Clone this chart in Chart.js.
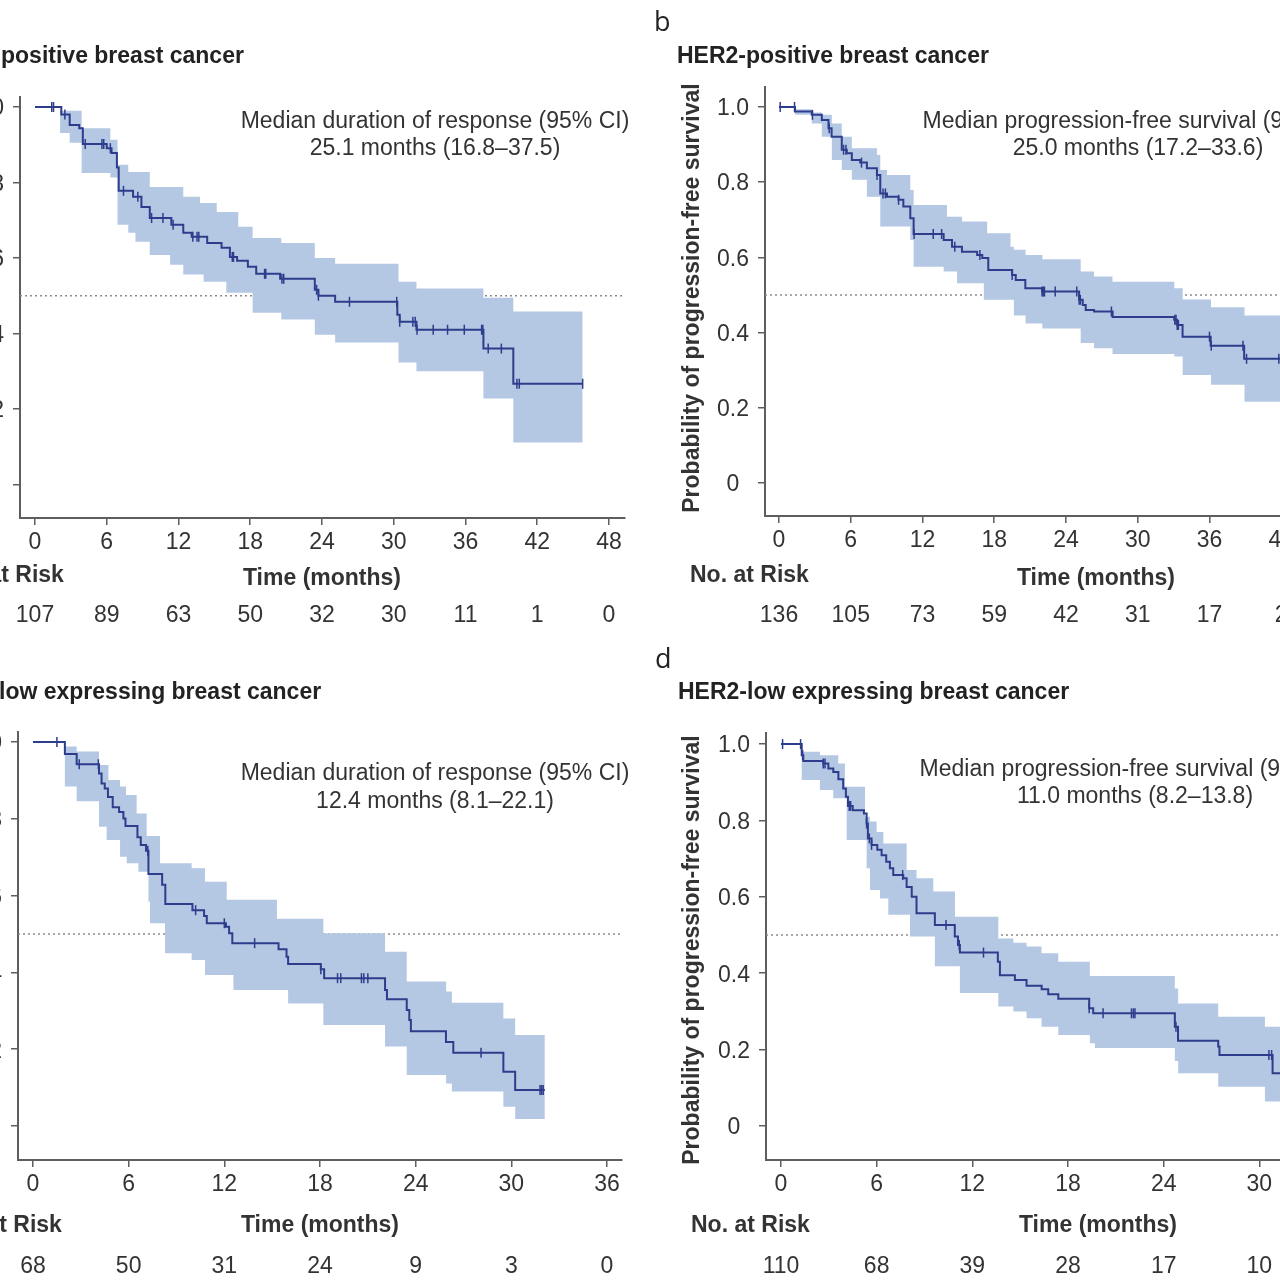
<!DOCTYPE html>
<html>
<head>
<meta charset="utf-8">
<script src="https://cdn.jsdelivr.net/npm/chart.js@4.4.1/dist/chart.umd.min.js"></script>
<style>
  html, body { margin: 0; padding: 0; background: #fff; }
  body { width: 1280px; height: 1280px; overflow: hidden; position: relative; }
  .panel { position: absolute; }
</style>
</head>
<body>
<script>
// ---- shared ticks ----
const yTicks = [0, 0.2, 0.4, 0.6, 0.8, 1.0];
const yTickLabels = ['0', '0.2', '0.4', '0.6', '0.8', '1.0'];

// ---- a: HER2-positive, duration of response ----
const aTime = [0, 2.2, 2.9, 3.7, 4.0, 6.0, 6.4, 6.85, 7.0, 8.2, 8.9, 9.6, 11.4, 12.4, 13.1, 14.4, 15.6, 16.3, 16.9, 17.8, 18.5, 20.5, 23.4, 23.7, 25.1, 30.3, 30.5, 31.9, 37.5, 40.0, 45.8];
const aSurv = [1.0, 0.98, 0.952, 0.944, 0.902, 0.891, 0.878, 0.84, 0.778, 0.762, 0.735, 0.706, 0.688, 0.667, 0.656, 0.640, 0.627, 0.603, 0.593, 0.577, 0.558, 0.545, 0.516, 0.50, 0.484, 0.45, 0.431, 0.41, 0.36, 0.267, 0.267];
const aCensor = [1.4, 1.55, 2.5, 4.2, 5.6, 5.75, 6.3, 7.4, 8.6, 9.75, 10.7, 11.55, 13.2, 13.55, 13.7, 16.5, 16.6, 19.2, 19.3, 20.65, 20.8, 23.55, 23.7, 26.3, 30.25, 30.5, 31.6, 31.8, 31.95, 33.3, 34.5, 35.9, 37.35, 37.45, 37.9, 39.0, 40.3, 40.5, 45.8];
const aBandTime = [0, 2.1, 2.9, 3.9, 6.3, 6.9, 7.8, 8.4, 9.6, 11.3, 12.4, 13.8, 14.1, 15.2, 16.0, 17.0, 18.2, 20.6, 23.4, 25.1, 30.4, 31.9, 37.5, 40.0, 45.8];
const aBandHigh = [1.0, 0.99, 0.99, 0.944, 0.913, 0.847, 0.828, 0.828, 0.788, 0.788, 0.762, 0.746, 0.746, 0.722, 0.722, 0.683, 0.653, 0.640, 0.600, 0.585, 0.537, 0.519, 0.495, 0.458, 0.458];
const aBandLow = [1.0, 0.931, 0.905, 0.825, 0.813, 0.688, 0.667, 0.643, 0.608, 0.582, 0.556, 0.556, 0.537, 0.537, 0.508, 0.508, 0.455, 0.437, 0.397, 0.376, 0.323, 0.300, 0.228, 0.111, 0.111];
const aXTicks = [0, 6, 12, 18, 24, 30, 36, 42, 48];
const aAtRisk = [107, 89, 63, 50, 32, 30, 11, 1, 0];

// ---- b: HER2-positive, progression-free survival ----
const bTime = [0, 1.34, 2.74, 3.58, 4.14, 4.4, 5.25, 5.67, 6.09, 6.79, 7.35, 8.19, 8.47, 9.03, 10.0, 10.4, 10.98, 11.26, 13.77, 14.47, 15.3, 16.57, 17.0, 17.5, 19.5, 19.8, 20.6, 22.0, 25.1, 25.4, 25.65, 26.35, 27.9, 33.05, 33.3, 33.75, 36.1, 38.9, 42.5];
const bSurv = [1.0, 0.988, 0.979, 0.965, 0.943, 0.921, 0.886, 0.877, 0.859, 0.852, 0.837, 0.819, 0.770, 0.761, 0.753, 0.735, 0.704, 0.662, 0.646, 0.628, 0.615, 0.606, 0.598, 0.566, 0.553, 0.540, 0.518, 0.509, 0.487, 0.473, 0.460, 0.456, 0.441, 0.434, 0.420, 0.389, 0.365, 0.330, 0.330];
const bCensor = [0.1, 1.3, 2.8, 4.2, 5.4, 5.6, 6.9, 8.2, 8.7, 8.9, 10.0, 11.3, 12.9, 13.6, 14.7, 16.8, 19.5, 22.0, 22.1, 22.2, 23.1, 24.9, 25.1, 25.2, 27.8, 33.1, 33.2, 33.3, 33.4, 36.0, 36.15, 38.8, 39.1, 41.8];
const bBandTime = [0, 1.34, 2.74, 3.58, 4.42, 5.25, 6.09, 7.35, 8.19, 8.47, 9.03, 10.98, 11.26, 13.77, 14.05, 14.89, 15.31, 17.13, 17.41, 19.36, 19.64, 20.62, 22.02, 25.23, 26.35, 27.89, 33.06, 33.76, 36.13, 38.93, 42.5];
const bBandHigh = [1.0, 0.994, 0.985, 0.979, 0.956, 0.921, 0.890, 0.890, 0.872, 0.832, 0.819, 0.779, 0.739, 0.739, 0.708, 0.708, 0.695, 0.695, 0.664, 0.628, 0.620, 0.606, 0.595, 0.562, 0.549, 0.535, 0.518, 0.488, 0.467, 0.445, 0.445];
const bBandLow = [1.0, 0.979, 0.956, 0.921, 0.859, 0.832, 0.806, 0.761, 0.761, 0.682, 0.682, 0.646, 0.575, 0.562, 0.562, 0.531, 0.531, 0.487, 0.487, 0.487, 0.445, 0.424, 0.411, 0.372, 0.358, 0.343, 0.336, 0.287, 0.261, 0.216, 0.216];
const bXTicks = [0, 6, 12, 18, 24, 30, 36, 42, 48];
const bAtRisk = [136, 105, 73, 59, 42, 31, 17, 2];

// ---- c: HER2-low, duration of response ----
const cTime = [0, 2.0, 2.74, 4.14, 4.3, 4.5, 4.7, 5.0, 5.4, 5.67, 5.8, 6.55, 6.76, 7.09, 7.24, 8.1, 8.3, 10.0, 10.73, 10.9, 12.1, 12.3, 12.5, 15.4, 15.9, 16.0, 18.05, 18.26, 22.08, 22.2, 23.44, 23.6, 23.7, 25.9, 26.36, 29.5, 30.24, 32.1];
const cSurv = [1.0, 0.969, 0.942, 0.918, 0.892, 0.879, 0.857, 0.830, 0.818, 0.801, 0.781, 0.752, 0.732, 0.717, 0.656, 0.628, 0.578, 0.562, 0.547, 0.528, 0.519, 0.502, 0.476, 0.460, 0.441, 0.422, 0.408, 0.385, 0.354, 0.330, 0.302, 0.276, 0.247, 0.219, 0.191, 0.141, 0.094, 0.094];
const cCensor = [1.5, 2.9, 4.1, 7.2, 10.2, 12.0, 13.9, 18.05, 19.1, 19.3, 20.6, 20.75, 21.0, 28.1, 31.8, 31.9, 32.0];
const cBandTime = [0, 2.0, 2.74, 4.14, 4.62, 4.73, 5.46, 5.83, 5.88, 6.5, 6.61, 7.13, 7.24, 7.34, 7.97, 8.28, 9.95, 10.79, 12.15, 12.57, 15.3, 16.0, 18.21, 22.08, 23.44, 25.91, 26.27, 29.5, 30.24, 32.1];
const cBandHigh = [1.0, 0.988, 0.975, 0.940, 0.940, 0.901, 0.884, 0.862, 0.862, 0.814, 0.814, 0.755, 0.755, 0.755, 0.684, 0.684, 0.671, 0.636, 0.589, 0.589, 0.540, 0.540, 0.502, 0.454, 0.376, 0.350, 0.321, 0.280, 0.237, 0.237];
const cBandLow = [1.0, 0.884, 0.846, 0.779, 0.745, 0.745, 0.701, 0.701, 0.684, 0.684, 0.662, 0.662, 0.584, 0.528, 0.528, 0.450, 0.432, 0.393, 0.393, 0.354, 0.354, 0.319, 0.263, 0.207, 0.133, 0.111, 0.090, 0.050, 0.018, 0.018];
const cXTicks = [0, 6, 12, 18, 24, 30, 36];
const cAtRisk = [68, 50, 31, 24, 9, 3, 0];

// ---- d: HER2-low, progression-free survival ----
const dTime = [0, 1.3, 1.4, 2.65, 2.97, 3.28, 3.6, 3.9, 4.07, 4.2, 4.5, 5.2, 5.37, 5.45, 5.68, 6.04, 6.31, 6.6, 6.83, 7.04, 7.67, 7.88, 8.2, 8.5, 9.65, 10.9, 11.1, 11.22, 13.6, 13.73, 14.67, 15.4, 16.35, 16.76, 17.39, 19.33, 19.58, 24.7, 24.9, 27.42, 27.5, 30.83, 32.5];
const dSurv = [1.0, 0.971, 0.956, 0.949, 0.936, 0.927, 0.908, 0.884, 0.862, 0.838, 0.827, 0.818, 0.792, 0.753, 0.736, 0.723, 0.709, 0.692, 0.675, 0.657, 0.649, 0.626, 0.600, 0.557, 0.526, 0.496, 0.474, 0.454, 0.430, 0.395, 0.382, 0.367, 0.358, 0.345, 0.333, 0.308, 0.295, 0.260, 0.223, 0.208, 0.186, 0.138, 0.138];
const dCensor = [0.1, 1.23, 1.36, 2.65, 2.76, 4.28, 4.37, 5.37, 5.54, 5.68, 7.63, 10.35, 11.18, 12.7, 19.33, 20.2, 21.98, 22.1, 22.2, 24.77, 30.6, 30.77];
const dBandTime = [0, 1.3, 2.44, 3.28, 3.59, 4.01, 4.12, 5.27, 5.37, 5.58, 6.0, 6.21, 6.42, 6.73, 7.88, 8.09, 8.5, 9.55, 9.65, 10.91, 11.22, 13.63, 14.57, 15.4, 16.34, 17.39, 19.37, 19.69, 24.7, 24.91, 27.42, 30.35, 32.5];
const dBandHigh = [1.0, 0.980, 0.971, 0.971, 0.949, 0.888, 0.888, 0.810, 0.810, 0.797, 0.770, 0.770, 0.740, 0.740, 0.670, 0.670, 0.649, 0.614, 0.614, 0.548, 0.548, 0.491, 0.480, 0.470, 0.452, 0.430, 0.393, 0.393, 0.360, 0.321, 0.286, 0.260, 0.260];
const dBandLow = [1.0, 0.906, 0.880, 0.858, 0.858, 0.858, 0.749, 0.749, 0.675, 0.618, 0.618, 0.596, 0.596, 0.553, 0.553, 0.496, 0.496, 0.496, 0.418, 0.418, 0.348, 0.313, 0.300, 0.282, 0.260, 0.238, 0.217, 0.204, 0.170, 0.138, 0.103, 0.064, 0.064];
const dXTicks = [0, 6, 12, 18, 24, 30, 36];
const dAtRisk = [110, 68, 39, 28, 17, 10];

// ---- look ----
const FONT = "'Liberation Sans', Arial, sans-serif";
const CURVE = '#2d3d8c';
const BAND = '#b4c8e4';
const AXIS = '#5e5e5e';
const TEXT = '#333333';
const MEDIAN = '#8c8c8c';

// canvas margins around the plot box, and fixed axis sizes
const PL = 120, PR = 20, PT = 100, PB = 130, WY = 60, HX = 40;
const MID = 2; // nudge so middle-baseline text sits where the reference has it

const panels = [
  {
    letter: 'a', title: 'HER2-positive breast cancer',
    time: aTime, surv: aSurv, censor: aCensor, bandT: aBandTime, bandHi: aBandHigh, bandLo: aBandLow,
    xTicks: aXTicks, risk: aAtRisk,
    box: { left: 20, right: 625, top: 97, bottom: 518 }, xr: [-1.254, 49.34], yr: [-0.0887, 1.0265],
    note: ['Median duration of response (95% CI)', '25.1 months (16.8\u201337.5)'], noteX: 435, noteY: [120, 147],
    titleY: 63, letterY: 31, timeX: 322, timeY: 577, riskLabelY: 574, riskY: 614, yTitle: null
  },
  {
    letter: 'b', title: 'HER2-positive breast cancer',
    time: bTime, surv: bSurv, censor: bCensor, bandT: bBandTime, bandHi: bBandHigh, bandLo: bBandLow,
    xTicks: bXTicks, risk: bAtRisk,
    box: { left: 765, right: 1369, top: 87, bottom: 516 }, xr: [-1.17, 49.34], yr: [-0.088, 1.053],
    note: ['Median progression-free survival (95% CI)', '25.0 months (17.2\u201333.6)'], noteX: 1138, noteY: [120, 147],
    titleY: 63, letterY: 31, timeX: 1096, timeY: 577, riskLabelY: 574, riskY: 614,
    yTitle: 'Probability of progression-free survival', yTitleX: 693, yTitleY: 298
  },
  {
    letter: 'c', title: 'HER2-low expressing breast cancer',
    time: cTime, surv: cSurv, censor: cCensor, bandT: cBandTime, bandHi: cBandHigh, bandLo: cBandLow,
    xTicks: cXTicks, risk: cAtRisk,
    box: { left: 18, right: 622, top: 732, bottom: 1160 }, xr: [-0.94, 36.94], yr: [-0.0885, 1.026],
    note: ['Median duration of response (95% CI)', '12.4 months (8.1\u201322.1)'], noteX: 435, noteY: [772, 800],
    titleY: 699, letterY: 668, timeX: 320, timeY: 1224, riskLabelY: 1224, riskY: 1265, yTitle: null
  },
  {
    letter: 'd', title: 'HER2-low expressing breast cancer',
    time: dTime, surv: dSurv, censor: dCensor, bandT: dBandTime, bandHi: dBandHigh, bandLo: dBandLow,
    xTicks: dXTicks, risk: dAtRisk,
    box: { left: 766, right: 1370, top: 733, bottom: 1160 }, xr: [-0.94, 36.94], yr: [-0.089, 1.029],
    note: ['Median progression-free survival (95% CI)', '11.0 months (8.2\u201313.8)'], noteX: 1135, noteY: [768, 795],
    titleY: 699, letterY: 668, timeX: 1098, timeY: 1224, riskLabelY: 1224, riskY: 1265,
    yTitle: 'Probability of progression-free survival', yTitleX: 693, yTitleY: 950
  }
];

function stepAt(times, values, t) {
  let v = values[0];
  for (let i = 0; i < times.length; i++) {
    if (times[i] <= t) v = values[i];
  }
  return v;
}

function textPlugin(p) {
  return {
    id: 'kmText',
    afterDraw(chart) {
      const ctx = chart.ctx;
      const xs = chart.scales.x;
      const ox = p.box.left - PL, oy = p.box.top - PT - MID;
      ctx.save();
      ctx.fillStyle = TEXT;
      ctx.textBaseline = 'middle';
      ctx.textAlign = 'center';
      ctx.font = '23px ' + FONT;
      p.risk.forEach((n, i) => {
        ctx.fillText(String(n), xs.getPixelForValue(p.xTicks[i]), p.riskY - oy);
      });
      p.note.forEach((line, i) => ctx.fillText(line, p.noteX - ox, p.noteY[i] - oy));

      ctx.font = 'bold 23px ' + FONT;
      ctx.fillText('Time (months)', p.timeX - ox, p.timeY - oy);
      ctx.textAlign = 'left';
      ctx.fillText('No. at Risk', p.box.left - 75 - ox, p.riskLabelY - oy);

      ctx.fillStyle = '#222';
      ctx.textBaseline = 'alphabetic';
      ctx.fillText(p.title, p.box.left - 88 - ox, p.titleY - oy - MID);
      ctx.font = "27px 'Open Sans', " + FONT;
      ctx.fillText(p.letter, p.box.left - 111 - ox, p.letterY - oy - MID);

      if (p.yTitle) {
        ctx.save();
        ctx.translate(p.yTitleX - ox, p.yTitleY - oy - MID);
        ctx.rotate(-Math.PI / 2);
        ctx.textAlign = 'center';
        ctx.textBaseline = 'middle';
        ctx.fillStyle = TEXT;
        ctx.font = 'bold 23px ' + FONT;
        ctx.fillText(p.yTitle, 0, 0);
        ctx.restore();
      }
      ctx.restore();
    }
  };
}

function axisStyle() {
  return {
    border: { display: true, color: AXIS, width: 2 },
    grid: { display: true, drawOnChartArea: false, drawTicks: true, tickLength: 7, color: AXIS, lineWidth: 1.5 }
  };
}

panels.forEach(p => {
  const div = document.createElement('div');
  div.className = 'panel';
  div.style.left = (p.box.left - PL) + 'px';
  div.style.top = (p.box.top - PT) + 'px';
  div.style.width = (p.box.right - p.box.left + PL + PR) + 'px';
  div.style.height = (p.box.bottom - p.box.top + PT + PB) + 'px';
  const canvas = document.createElement('canvas');
  div.appendChild(canvas);
  document.body.appendChild(div);

  const curve = p.time.map((t, i) => ({ x: t, y: p.surv[i] }));
  const marks = p.censor.map(t => ({ x: t, y: stepAt(p.time, p.surv, t) }));
  const hi = p.bandT.map((t, i) => ({ x: t, y: p.bandHi[i] }));
  const lo = p.bandT.map((t, i) => ({ x: t, y: p.bandLo[i] }));

  new Chart(canvas, {
    type: 'line',
    data: {
      datasets: [
        {
          data: marks, showLine: false, pointStyle: 'line', rotation: 90,
          pointRadius: 5, pointBorderWidth: 1.5, pointBorderColor: CURVE, borderColor: CURVE
        },
        { data: curve, stepped: true, borderColor: CURVE, borderWidth: 2, pointRadius: 0, fill: false },
        { data: hi, stepped: true, borderWidth: 0, borderColor: 'rgba(0,0,0,0)', pointRadius: 0, fill: '+1', backgroundColor: BAND },
        { data: lo, stepped: true, borderWidth: 0, borderColor: 'rgba(0,0,0,0)', pointRadius: 0, fill: false },
        {
          data: [{ x: p.xr[0], y: 0.5 }, { x: p.xr[1], y: 0.5 }],
          borderColor: MEDIAN, borderWidth: 1.5, borderDash: [2, 3], pointRadius: 0, fill: false
        }
      ]
    },
    options: {
      responsive: true,
      maintainAspectRatio: false,
      animation: false,
      events: [],
      layout: { padding: { left: PL - WY, right: PR, top: PT, bottom: PB - HX } },
      scales: {
        x: {
          type: 'linear', min: p.xr[0], max: p.xr[1],
          afterFit: s => { s.height = HX; },
          afterBuildTicks: s => { s.ticks = p.xTicks.map(v => ({ value: v })); },
          ...axisStyle(),
          ticks: {
            color: TEXT, font: { family: FONT, size: 23 }, padding: 4,
            maxRotation: 0, autoSkip: false, callback: v => String(v)
          }
        },
        y: {
          type: 'linear', min: p.yr[0], max: p.yr[1],
          afterFit: s => { s.width = WY; },
          afterBuildTicks: s => { s.ticks = yTicks.map(v => ({ value: v })); },
          ...axisStyle(),
          ticks: {
            color: TEXT, font: { family: FONT, size: 23 }, padding: 9, crossAlign: 'center',
            labelOffset: MID, autoSkip: false, callback: (v, i) => yTickLabels[i]
          }
        }
      },
      plugins: { legend: { display: false }, tooltip: { enabled: false } }
    },
    plugins: [textPlugin(p)]
  });
});
</script>
</body>
</html>
